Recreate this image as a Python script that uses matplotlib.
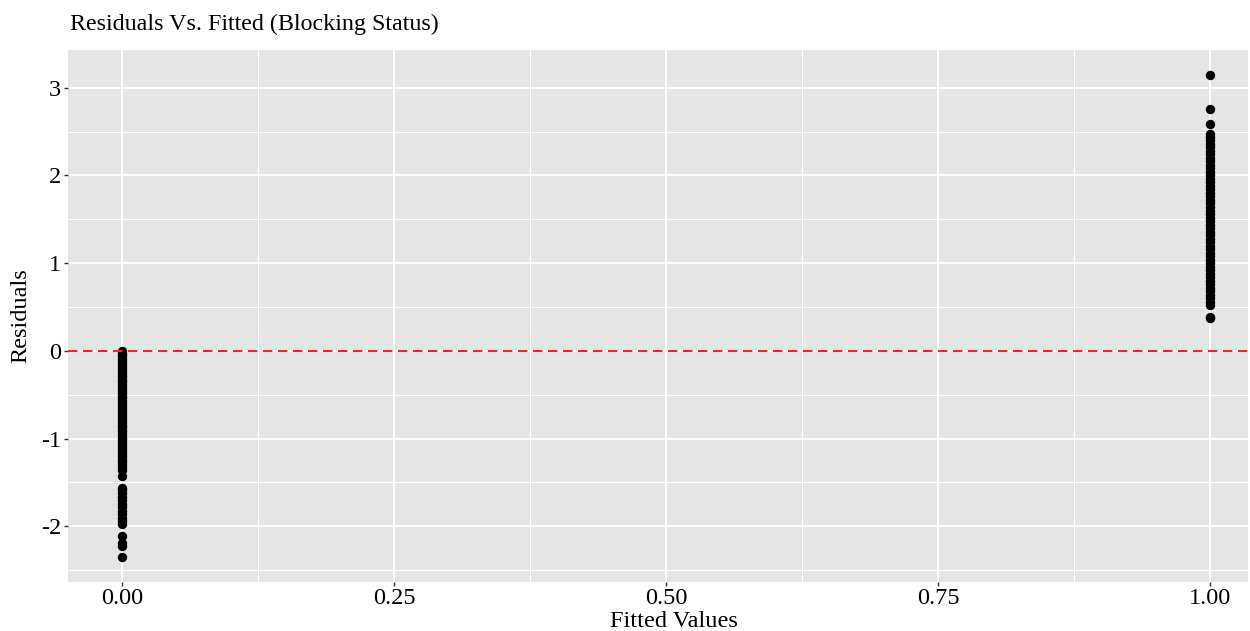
import matplotlib.pyplot as plt
import numpy as np

#----------------------------------------------------
# Data
#----------------------------------------------------
left_fitted = 0.0
left_resid = [0.00, -0.03, -0.06, -0.09, -0.12, -0.15, -0.18, -0.21, -0.24, -0.27,
              -0.30, -0.33, -0.36, -0.39, -0.42, -0.45, -0.48, -0.51, -0.54, -0.57,
              -0.60, -0.63, -0.66, -0.69, -0.72, -0.75, -0.78, -0.81, -0.84, -0.87,
              -0.90, -0.93, -0.96, -0.99, -1.02, -1.05, -1.08, -1.11, -1.14, -1.17,
              -1.20, -1.23, -1.26, -1.29, -1.32, -1.36, -1.43,
              -1.56, -1.59, -1.62, -1.66, -1.70, -1.74, -1.78, -1.82, -1.86, -1.90,
              -1.94, -1.97, -2.11, -2.19, -2.22, -2.35]

right_fitted = 1.0
right_resid = [3.14, 2.76, 2.59, 2.47, 2.44, 2.40, 2.36, 2.32, 2.28, 2.24, 2.20,
               2.16, 2.12, 2.08, 2.04, 2.00, 1.96, 1.92, 1.88, 1.84, 1.80, 1.76,
               1.72, 1.68, 1.64, 1.60, 1.56, 1.52, 1.48, 1.44, 1.40, 1.36, 1.32,
               1.28, 1.24, 1.20, 1.16, 1.12, 1.08, 1.04, 1.00, 0.96, 0.92, 0.88,
               0.84, 0.80, 0.76, 0.72, 0.68, 0.64, 0.60, 0.56, 0.52, 0.39, 0.37]

x_ticks = [0.00, 0.25, 0.50, 0.75, 1.00]
x_labels = ['0.00', '0.25', '0.50', '0.75', '1.00']
y_ticks = [-2, -1, 0, 1, 2, 3]
y_labels = ['-2', '-1', '0', '1', '2', '3']

#----------------------------------------------------
# Plot
#----------------------------------------------------
plt.rcParams['font.family'] = ['Liberation Serif', 'DejaVu Serif']

fig = plt.figure(figsize=(12.5, 6.31), dpi=100)
ax = fig.add_axes([0.0544, 0.0776, 0.944, 0.8432])
ax.set_facecolor('#e5e5e5')

# grid lines, ggplot style
for v in [0.125, 0.375, 0.625, 0.875]:
    ax.axvline(v, color='white', lw=0.7, zorder=0)
for v in [-2.5, -1.5, -0.5, 0.5, 1.5, 2.5]:
    ax.axhline(v, color='white', lw=0.7, zorder=0)
for v in x_ticks:
    ax.axvline(v, color='white', lw=1.4, zorder=0)
for v in y_ticks:
    ax.axhline(v, color='white', lw=1.4, zorder=0)

ax.scatter([left_fitted] * len(left_resid), left_resid, s=46, color='black', lw=0, zorder=3)
ax.scatter([right_fitted] * len(right_resid), right_resid, s=46, color='black', lw=0, zorder=3)
ax.axhline(0, color='#ff2020', lw=1.5, ls=(0, (4.5, 2.7)), zorder=4)

ax.set_xlim(-0.05, 1.035)
ax.set_ylim(-2.635, 3.43)
ax.set_xticks(x_ticks)
ax.set_xticklabels(x_labels)
ax.set_yticks(y_ticks)
ax.set_yticklabels(y_labels)
ax.tick_params(length=3, width=1, color='#333333', labelsize=17.5, labelcolor='black', pad=2)
ax.tick_params(axis='x', pad=1.5)
for s in ax.spines.values():
    s.set_visible(False)

ax.set_xlabel('Fitted Values', fontsize=17.5, labelpad=1)
ax.xaxis.set_label_coords(0.5136, -0.055)
ax.set_ylabel('Residuals', fontsize=17.5, labelpad=7)
fig.text(0.056, 0.962, 'Residuals Vs. Fitted (Blocking Status)', fontsize=17.3, va='center', ha='left')

fig.savefig('out.png', dpi=100)
